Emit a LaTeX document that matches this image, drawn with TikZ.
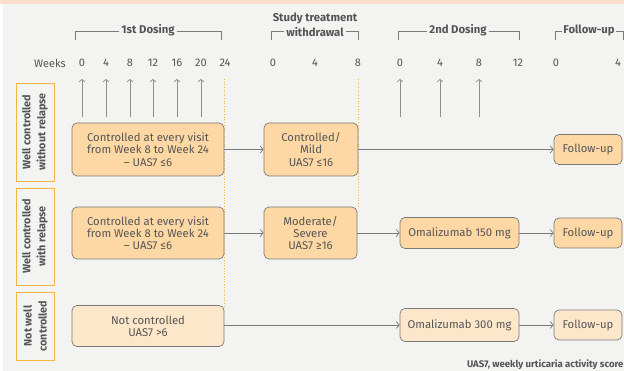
\documentclass[tikz,border=0pt]{standalone}
\usepackage{fontspec}
\setmainfont{Fira Sans}
\usetikzlibrary{arrows.meta}
\definecolor{bg}{HTML}{F3F3F2}
\definecolor{band}{HTML}{FBDDCE}
\definecolor{boxdark}{HTML}{FDD8A5}
\definecolor{boxlight}{HTML}{FDE7CB}
\definecolor{edge}{HTML}{7A7A7A}
\definecolor{txt}{HTML}{555555}
\definecolor{orng}{HTML}{F6B443}
\tikzset{
  x=1pt,y=-1pt,
  every node/.style={text=txt,font=\fontsize{11.3}{12.2}\selectfont},
  stepbox/.style={draw=edge,line width=0.7pt,rounded corners=5pt,fill=boxdark,align=center,inner sep=0pt},
  lightbox/.style={stepbox,fill=boxlight},
  rowlab/.style={draw=orng,line width=0.9pt,fill=bg,inner sep=0pt,align=center},
  rowtxt/.style={rotate=90,align=center,font=\fontsize{10.8}{15}\selectfont\bfseries},
  conn/.style={draw=edge,line width=0.7pt,-{Straight Barb[length=3pt,width=7pt]}},
  tick/.style={draw=edge!85,line width=0.7pt,-{Straight Barb[length=2.5pt,width=6pt]}},
  brk/.style={draw=edge,line width=0.7pt},
  dotl/.style={draw=orng,line width=0.7pt,dotted},
  hdr/.style={font=\fontsize{11.3}{12}\selectfont\bfseries,fill=bg,inner xsep=2pt,inner ysep=1pt},
  wk/.style={font=\fontsize{11}{12}\selectfont}
}
\begin{document}
\begin{tikzpicture}
\fill[bg] (0,0) rectangle (624,371);
\fill[white] (0,0) rectangle (3,371);
\fill[band] (0,0) rectangle (624,4);
\useasboundingbox (0,0) rectangle (624,371);

% headers
\draw[brk] (75,40) -- (75,31) -- (221,31) -- (221,40);
\node[hdr] (h1) at (148,30) {1st Dosing};
\draw[brk] (271,40) -- (271,31) -- (358,31) -- (358,40);
\node[hdr] (h2b) at (315,32) {withdrawal};
\node[hdr] (h2a) at (315,18) {Study treatment};
\draw[brk] (398,40) -- (398,31) -- (519,31) -- (519,40);
\node[hdr] (h3) at (458,30) {2nd Dosing};
\draw[brk] (555,40) -- (555,31) -- (623,31) -- (623,40);
\node[hdr,inner xsep=1pt] (h4) at (589,30) {Follow-up};

% weeks
\node[wk] (wk) at (50,63) {Weeks};
\foreach \x/\t [count=\i] in {82/0,106/4,130/8,153/12,177/16,201/20,225/24,273/0,315/4,358/8,400/0,440/4,479/8,518/12,556/0,618/4}
  \node[wk] (w\i) at (\x,63) {\t};

% dosing arrows
\foreach \x [count=\i] in {82,106,130,153,177,201,400,440,479} {
  \coordinate (tb\i) at (\x,117);
  \coordinate (tt\i) at (\x,79);
  \draw[tick] (tb\i) -- (tt\i);
}

% dotted lines
\coordinate (d1t) at (224,79);
\coordinate (d1b) at (224,306);
\coordinate (d2t) at (358,79);
\coordinate (d2b) at (358,207);
\draw[dotl] (d1t) -- (d1b);
\draw[dotl] (d2t) -- (d2b);

% row labels
\node[rowlab,minimum width=38pt,minimum height=98pt] (L1) at (35,132) {};
\node[rowtxt] at (L1.center) {Well controlled\\without relapse};
\node[rowlab,minimum width=38pt,minimum height=97pt] (L2) at (35,236.5) {};
\node[rowtxt] at (L2.center) {Well controlled\\with relapse};
\node[rowlab,minimum width=38pt,minimum height=68pt] (L3) at (35,326) {};
\node[rowtxt] at (L3.center) {Not well\\controlled};

% row 1
\node[stepbox,minimum width=152pt,minimum height=53pt] (A1) at (148,149.5) {Controlled at every visit\\from Week 8 to Week 24\\– UAS7 ≤6};
\node[stepbox,minimum width=94pt,minimum height=53pt] (B1) at (311,149.5) {Controlled/\\Mild\\UAS7 ≤16};
\node[stepbox,minimum width=68pt,minimum height=30pt] (F1) at (588,149.5) {Follow-up};
\draw[conn] (A1) -- (B1);
\draw[conn] (B1) -- (F1);

% row 2
\node[stepbox,minimum width=152pt,minimum height=52pt] (A2) at (148,233) {Controlled at every visit\\from Week 8 to Week 24\\– UAS7 ≤6};
\node[stepbox,minimum width=93pt,minimum height=52pt] (B2) at (310.5,233) {Moderate/\\Severe\\UAS7 ≥16};
\node[stepbox,minimum width=119pt,minimum height=31pt] (O2) at (459.5,233) {Omalizumab 150 mg};
\node[stepbox,minimum width=68pt,minimum height=30pt] (F2) at (588,233) {Follow-up};
\draw[conn] (A2) -- (B2);
\draw[conn] (B2) -- (O2);
\draw[conn] (O2) -- (F2);

% row 3
\node[lightbox,minimum width=152pt,minimum height=41pt] (A3) at (148,326) {Not controlled\\UAS7 >6};
\node[lightbox,minimum width=119pt,minimum height=33pt] (O3) at (459.5,325) {Omalizumab 300 mg};
\node[lightbox,minimum width=68pt,minimum height=30pt] (F3) at (588,325) {Follow-up};
\draw[conn] (A3.east |- O3) -- (O3);
\draw[conn] (O3) -- (F3);

% footnote
\node[anchor=east,font=\fontsize{9.6}{11}\selectfont\bfseries] (fn) at (627,365) {UAS7, weekly urticaria activity score};
\end{tikzpicture}
\end{document}
